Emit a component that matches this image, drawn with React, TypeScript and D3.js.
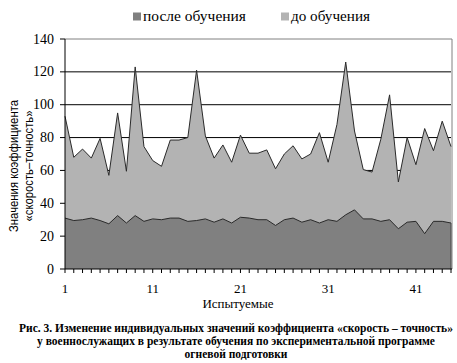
import React from 'react';
import * as d3 from 'd3';

// Values
const subjects = d3.range(1, 46);
const beforeTraining = [
  93, 68, 73, 67.5, 79.5, 57, 95, 59.5, 123, 74.5,
  66, 62.5, 78.5, 78.5, 80, 121, 81, 67.5, 75.5, 65,
  81.5, 70.5, 70.5, 72.5, 61, 70, 75, 67, 70, 83,
  65, 88, 126, 84, 60.5, 59, 79, 106, 53, 80,
  63.5, 85.5, 72, 90, 74.5,
];
const afterTraining = [
  31, 29.5, 30, 31, 29.5, 27.5, 32.5, 28, 32.5, 29,
  30.5, 30, 31, 31, 29, 29.5, 30.5, 28.5, 30.5, 28,
  31.5, 31, 30, 30, 26.5, 30, 31, 28.5, 30, 28,
  30, 29, 33, 36, 30.5, 30.5, 29, 30, 24.5, 28.5,
  29, 21.5, 29, 29, 28,
];
const yTicks = [0, 20, 40, 60, 80, 100, 120, 140];
const xLabels = [1, 11, 21, 31, 41];
const legendItems = [
  { label: 'после обучения', color: '#808080' },
  { label: 'до обучения', color: '#b3b3b3' },
];
const captionLines = [
  'Рис. 3. Изменение индивидуальных значений коэффициента «скорость – точность»',
  'у военнослужащих в результате обучения по экспериментальной программе',
  'огневой подготовки',
];

const W = 457;
const H = 363;
const left = 65;
const right = 451;
const top = 39;
const bottom = 269;

const serif = { fontFamily: "'Liberation Serif', 'Times New Roman', serif" };
const sans = { fontFamily: "'Liberation Sans', Arial, sans-serif" };

export default function App() {
  const x = d3.scalePoint<number>().domain(subjects).range([left, right]);
  const y = d3.scaleLinear().domain([0, 140]).range([bottom, top]);

  const area = (vals: number[]) =>
    d3.area<number>()
      .x((_, i) => x(subjects[i])!)
      .y0(y(0))
      .y1((d) => y(d))(vals) || '';
  const line = (vals: number[]) =>
    d3.line<number>()
      .x((_, i) => x(subjects[i])!)
      .y((d) => y(d))(vals) || '';

  const titleY = 166;

  return (
    <svg width={W} height={H} style={{ position: 'absolute', left: 0, top: 0, background: '#fff' }}>
      {/* legend */}
      <g style={serif} fontSize={15}>
        {legendItems.map((it, i) => {
          const lx = i === 0 ? 133 : 281;
          return (
            <g key={it.label}>
              <rect x={lx} y={12.5} width={8} height={8} fill={it.color} />
              <text x={lx + 10} y={20.5} textLength={i === 0 ? 103 : 79} lengthAdjust="spacingAndGlyphs">{it.label}</text>
            </g>
          );
        })}
      </g>

      {/* gridlines */}
      {yTicks.slice(1, -1).map((t) => (
        <line key={t} x1={left} x2={right} y1={y(t)} y2={y(t)} stroke="#000" strokeWidth={1} />
      ))}
      <line x1={left} x2={right + 1} y1={y(140)} y2={y(140)} stroke="#808080" />
      <line x1={right + 1} x2={right + 1} y1={y(140)} y2={y(0)} stroke="#808080" />

      {/* areas */}
      <path d={area(beforeTraining)} fill="#b3b3b3" />
      <path d={line(beforeTraining)} fill="none" stroke="#2a2a2a" strokeWidth={1} />
      <path d={area(afterTraining)} fill="#808080" />
      <path d={line(afterTraining)} fill="none" stroke="#2a2a2a" strokeWidth={1} />
      <line x1={right} x2={right} y1={y(afterTraining[afterTraining.length - 1])} y2={y(0)} stroke="#444" />

      {/* y axis */}
      <line x1={left} x2={left} y1={top} y2={bottom} stroke="#000" />
      {yTicks.map((t) => (
        <g key={t}>
          <line x1={left - 5} x2={left} y1={y(t)} y2={y(t)} stroke="#000" />
          <text x={54} y={y(t) + 4.5} textAnchor="end" style={serif} fontSize={14}>{t}</text>
        </g>
      ))}

      {/* x axis */}
      <line x1={left} x2={right + 1} y1={bottom} y2={bottom} stroke="#000" />
      {subjects.map((s) => (
        <line key={s} x1={x(s)} x2={x(s)} y1={bottom} y2={bottom + 4} stroke="#000" />
      ))}
      {xLabels.map((s) => (
        <text key={s} x={x(s)} y={293} textAnchor="middle" style={serif} fontSize={13}>{s}</text>
      ))}
      <text x={238} y={308} textAnchor="middle" style={serif} fontSize={13}>Испытуемые</text>

      {/* y title */}
      <g transform={`translate(0,${titleY}) rotate(-90)`} style={sans} fontSize={12} textAnchor="middle">
        <text x={0} y={18} textLength={132} lengthAdjust="spacingAndGlyphs">Значения коэффициента</text>
        <text x={0} y={33} textLength={111} lengthAdjust="spacingAndGlyphs">«скорость–точность»</text>
      </g>

      {/* caption */}
      <g style={serif} fontSize={11.5} fontWeight="bold" textAnchor="middle">
        {captionLines.map((l, i) => (
          <text key={i} x={236} y={331.5 + i * 13}>{l}</text>
        ))}
      </g>
    </svg>
  );
}
